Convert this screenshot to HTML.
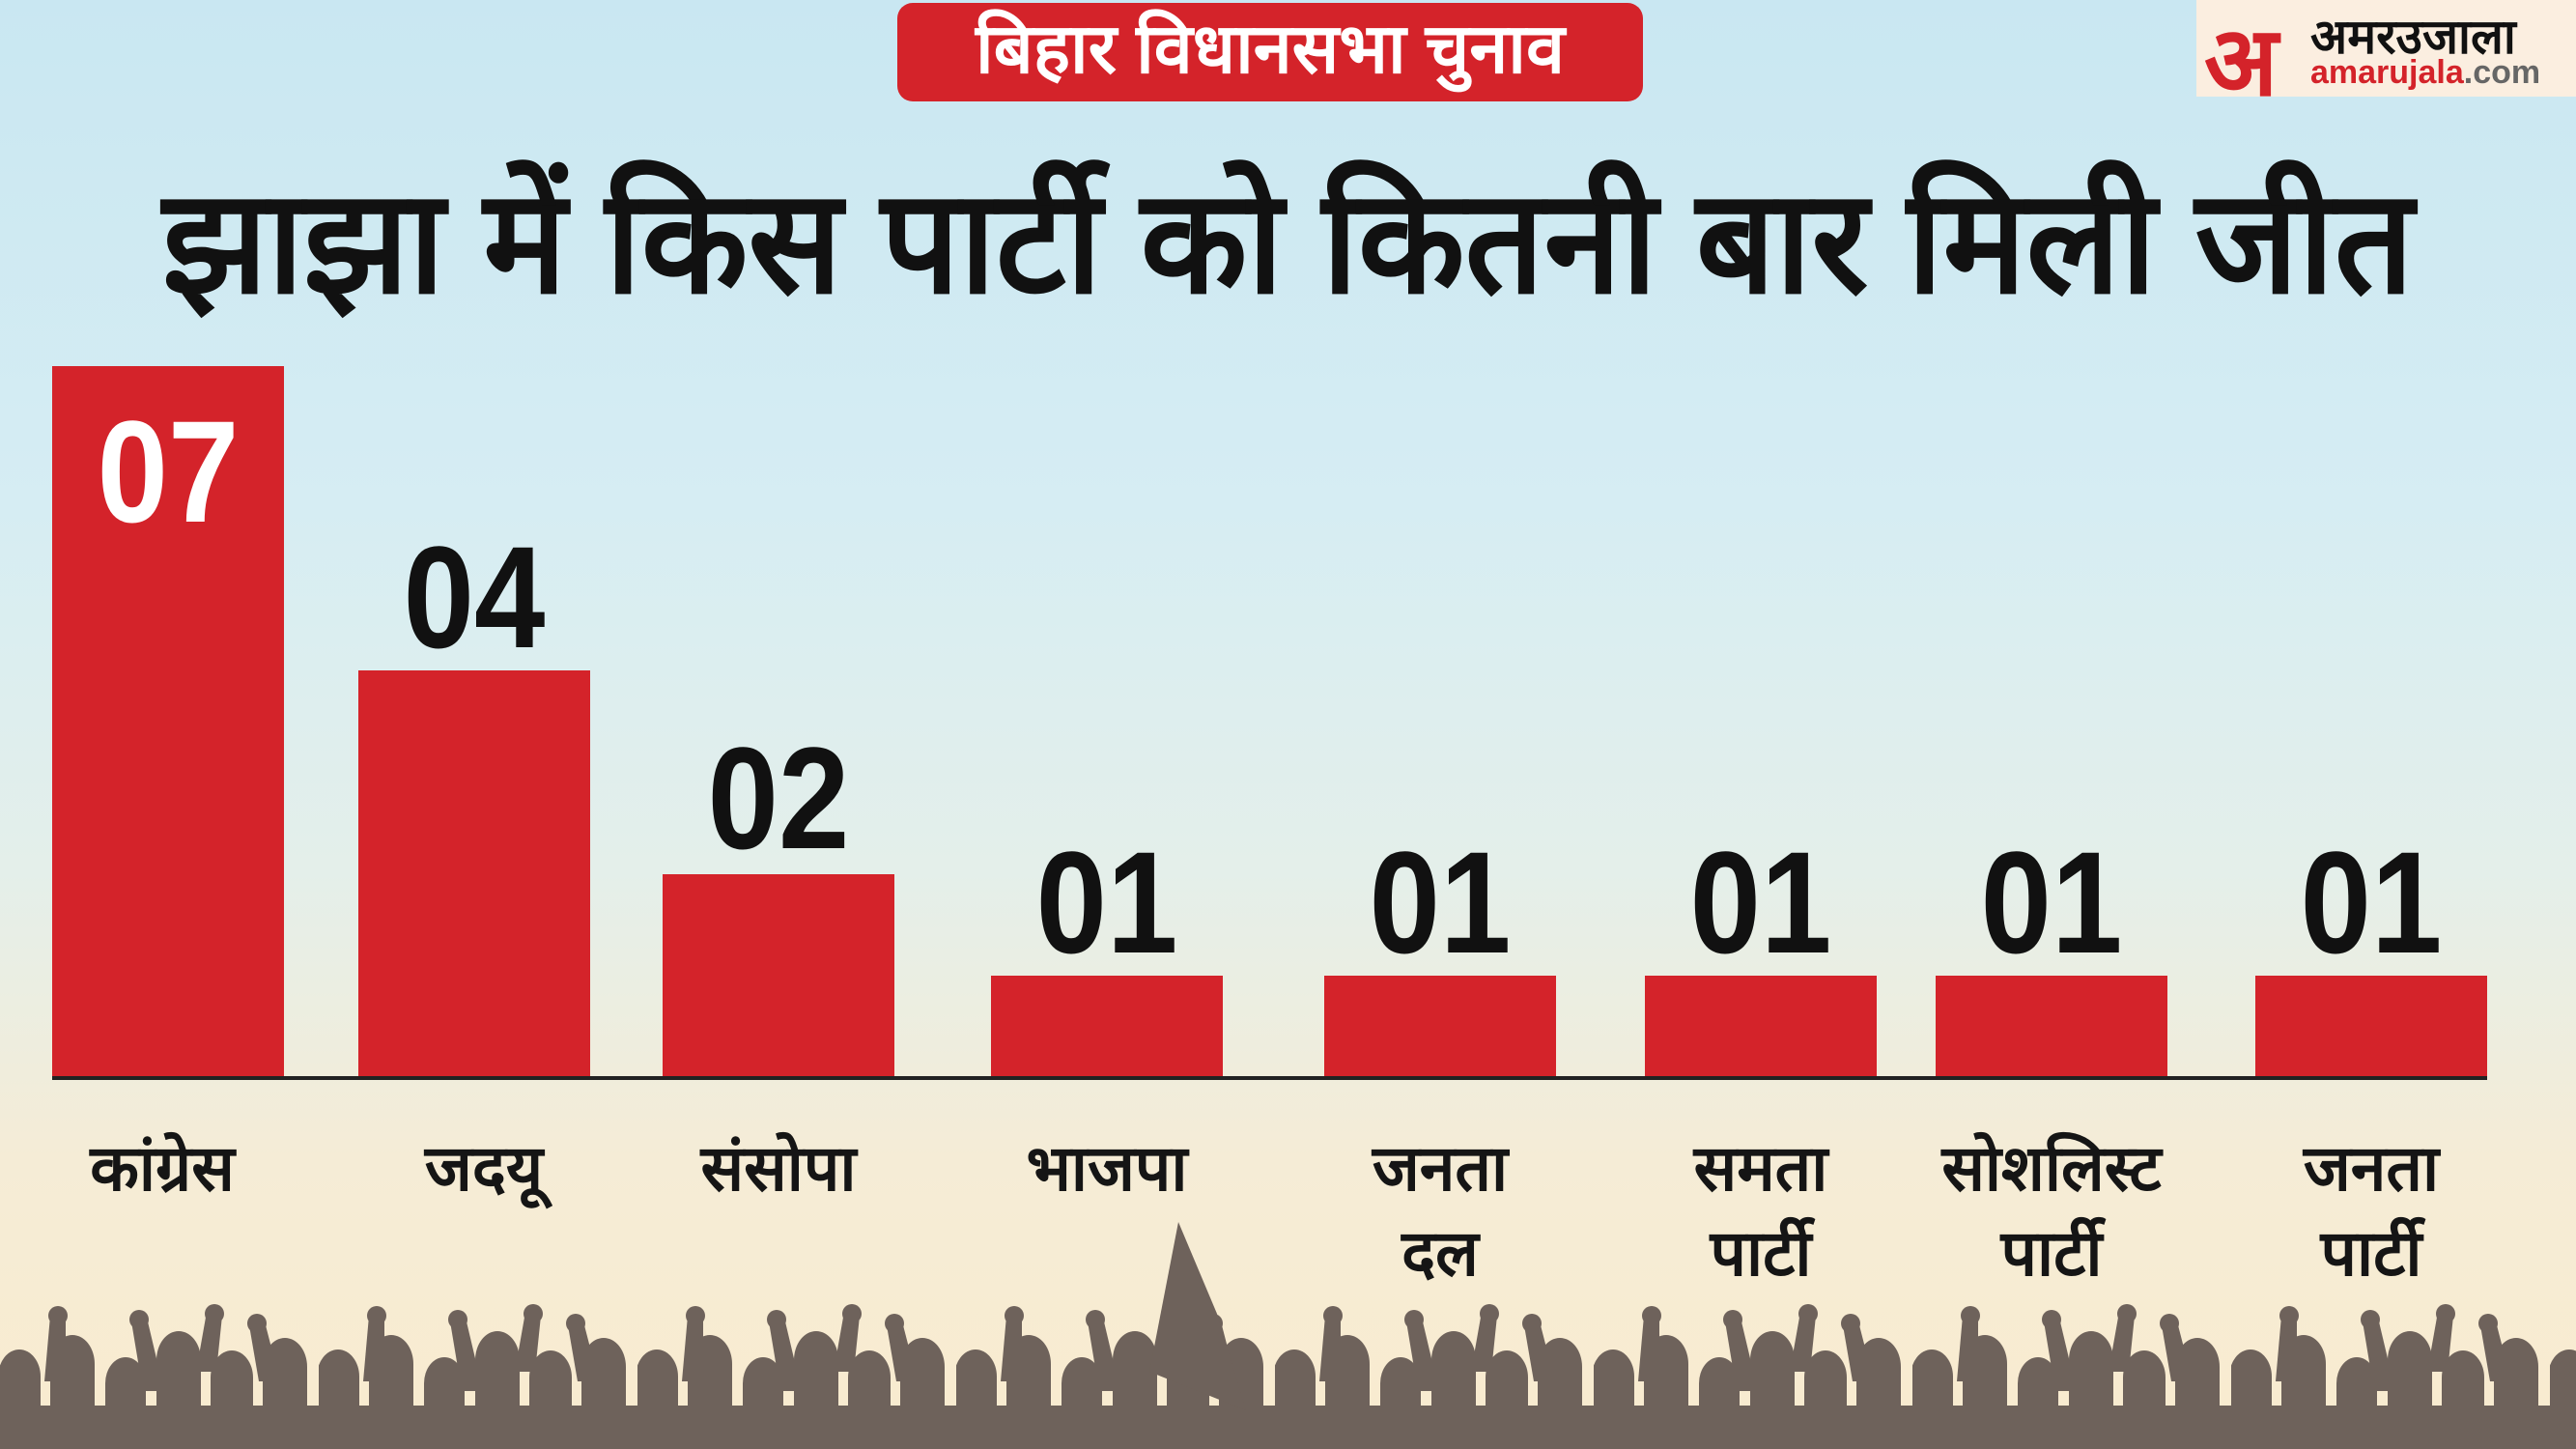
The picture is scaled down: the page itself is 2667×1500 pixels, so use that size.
<!DOCTYPE html>
<html><head><meta charset="utf-8"><style>
html,body{margin:0;padding:0}
body{width:2667px;height:1500px;position:relative;overflow:hidden;font-family:"Liberation Sans",sans-serif;
background:linear-gradient(180deg,#c9e7f2 0%,#d6edf3 35%,#e4efea 60%,#f5ecd6 80%,#f9ebcf 100%);}
.a{position:absolute}
.banner{left:929px;top:3px;width:772px;height:102px;background:#d4232a;border-radius:16px;color:#fff;font-weight:bold;font-size:72px;text-align:center;line-height:96px}
.title{left:0;width:2667px;top:165px;text-align:center;font-weight:bold;font-size:150px;color:#111;line-height:170px;transform:scaleX(0.96)}
.logo{left:2274px;top:0;width:393px;height:100px;background:#fbeee0}
.bar{position:absolute;background:#d4232a;width:240px;bottom:384px}
.v{position:absolute;width:240px;text-align:center;font-size:150px;font-weight:bold;color:#111;line-height:1;font-family:"Liberation Sans",sans-serif;transform:scaleX(0.88)}
.lab{position:absolute;width:340px;text-align:center;font-size:66px;font-weight:bold;color:#151515;line-height:88px;top:1165px}
</style></head><body>
<div class="a banner">बिहार विधानसभा चुनाव</div>
<div class="a title">झाझा में किस पार्टी को कितनी बार मिली जीत</div>
<div class="a logo">
 <div class="a" style="left:8px;top:-8px;font-size:100px;font-weight:bold;color:#d4232a">अ</div>
 <div class="a" style="left:118px;top:2px;font-size:50px;font-weight:bold;color:#111">अमरउजाला</div>
 <div class="a" style="left:118px;top:56px;font-size:34px;font-weight:bold;color:#d4232a">amarujala<span style="color:#666">.com</span></div>
</div>

<div class="bar" style="left:54px;height:737px"></div>
<div class="bar" style="left:371px;height:422px"></div>
<div class="bar" style="left:686px;height:211px"></div>
<div class="bar" style="left:1026px;height:106px"></div>
<div class="bar" style="left:1371px;height:106px"></div>
<div class="bar" style="left:1703px;height:106px"></div>
<div class="bar" style="left:2004px;height:106px"></div>
<div class="bar" style="left:2335px;height:106px"></div>
<div class="a" style="left:54px;top:1114px;width:2521px;height:4px;background:#222"></div>

<div class="v" style="left:54px;top:413px;color:#fff">07</div>
<div class="v" style="left:371px;top:543px">04</div>
<div class="v" style="left:686px;top:751px">02</div>
<div class="v" style="left:1026px;top:859px">01</div>
<div class="v" style="left:1371px;top:859px">01</div>
<div class="v" style="left:1703px;top:859px">01</div>
<div class="v" style="left:2004px;top:859px">01</div>
<div class="v" style="left:2335px;top:859px">01</div>

<div class="lab" style="left:-2px">कांग्रेस</div>
<div class="lab" style="left:331px">जदयू</div>
<div class="lab" style="left:636px">संसोपा</div>
<div class="lab" style="left:976px">भाजपा</div>
<div class="lab" style="left:1321px">जनता<br>दल</div>
<div class="lab" style="left:1653px">समता<br>पार्टी</div>
<div class="lab" style="left:1954px">सोशलिस्ट<br>पार्टी</div>
<div class="lab" style="left:2285px">जनता<br>पार्टी</div>

<svg class="a" style="left:0;top:0" width="2667" height="1500">
<defs><pattern id="p" x="0" y="0" width="330" height="1500" patternUnits="userSpaceOnUse">
<g fill="#6e625b">
<ellipse cx="20" cy="1425" rx="22" ry="28"/><rect x="-2" y="1425" width="44" height="75"/>
<ellipse cx="75" cy="1412" rx="23" ry="30"/><rect x="52" y="1412" width="46" height="88"/>
<ellipse cx="130" cy="1432" rx="21" ry="27"/><rect x="109" y="1432" width="42" height="68"/>
<ellipse cx="185" cy="1408" rx="23" ry="30"/><rect x="162" y="1408" width="46" height="92"/>
<ellipse cx="240" cy="1426" rx="22" ry="28"/><rect x="218" y="1426" width="44" height="74"/>
<ellipse cx="295" cy="1415" rx="23" ry="30"/><rect x="272" y="1415" width="46" height="85"/>
<path d="M46 1430 L52 1362 L68 1362 L68 1430Z"/><circle cx="60" cy="1362" r="10"/>
<path d="M148 1440 L136 1368 L152 1364 L170 1440Z"/><circle cx="144" cy="1366" r="10"/>
<path d="M203 1420 L214 1358 L230 1362 L224 1420Z"/><circle cx="222" cy="1360" r="10"/>
<path d="M268 1430 L258 1372 L274 1368 L290 1430Z"/><circle cx="266" cy="1370" r="10"/>
</g></pattern></defs>
<rect x="0" y="1340" width="2667" height="160" fill="url(#p)"/>
<rect x="0" y="1455" width="2667" height="45" fill="#6e625b"/>
<path d="M1190 1420 L1220 1265 L1260 1360 L1290 1460 Z" fill="#6e625b"/>
</svg>
</body></html>
